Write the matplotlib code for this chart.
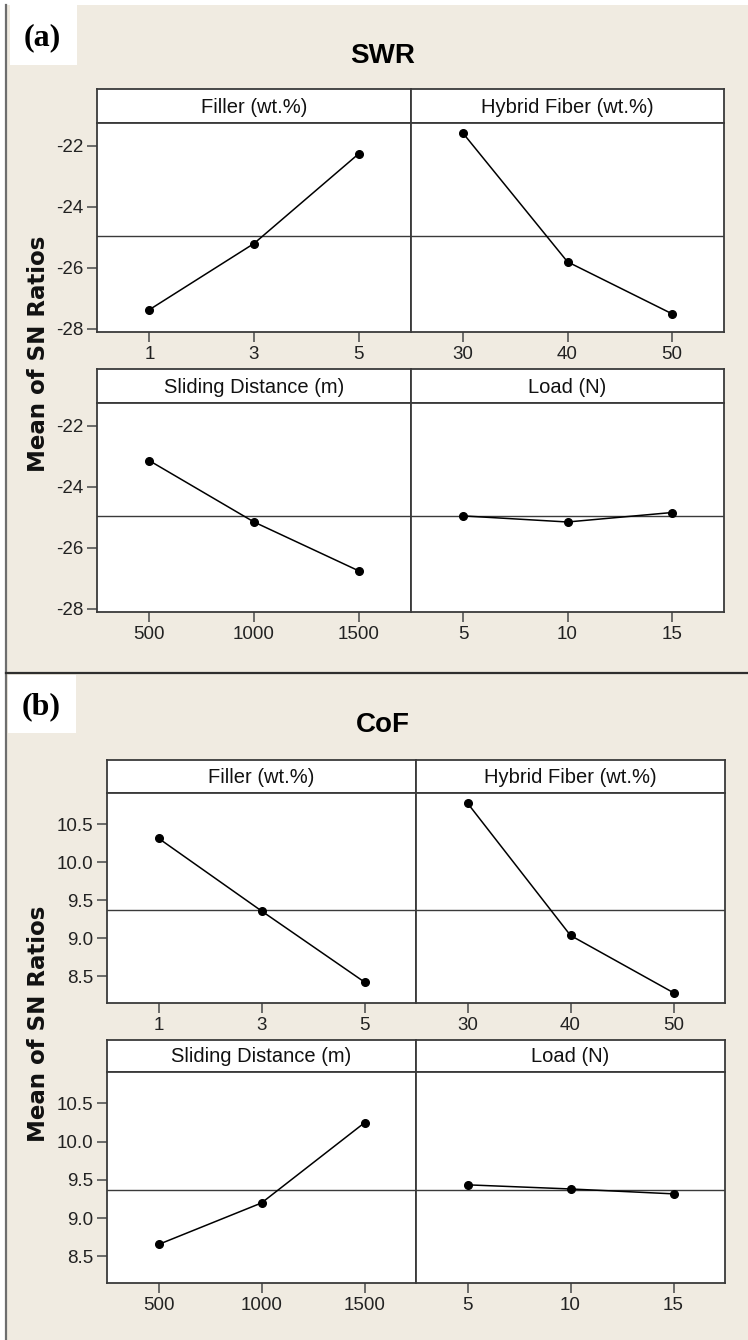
import matplotlib
matplotlib.use("Agg")
import matplotlib.pyplot as plt
from matplotlib.ticker import FormatStrFormatter

W, H = 748, 1340
BG = "#f0ebe1"
EDGE = "#3a3a3a"
SANS = ["Liberation Sans", "DejaVu Sans"]

# factor levels
filler_levels = [1, 3, 5]
fiber_levels = [30, 40, 50]
distance_levels = [500, 1000, 1500]
load_levels = [5, 10, 15]

factor_names = ["Filler (wt.%)", "Hybrid Fiber (wt.%)",
                "Sliding Distance (m)", "Load (N)"]

# mean of SN ratios, (a) specific wear rate
swr_filler = [-27.37, -25.20, -22.26]
swr_fiber = [-21.59, -25.80, -27.50]
swr_distance = [-23.14, -25.15, -26.75]
swr_load = [-24.95, -25.15, -24.84]
swr_mean = -24.95

# mean of SN ratios, (b) coefficient of friction
cof_filler = [10.315, 9.36, 8.425]
cof_fiber = [10.777, 9.038, 8.285]
cof_distance = [8.654, 9.197, 10.246]
cof_load = [9.434, 9.38, 9.316]
cof_mean = 9.37

swr_yticks = [-28, -26, -24, -22]
cof_yticks = [8.5, 9.0, 9.5, 10.0, 10.5]


def px_axes(fig, l, t, r, b):
    return fig.add_axes([l / W, 1 - b / H, (r - l) / W, (b - t) / H])


def draw_block(fig, title, label, top, cols, rows, series, levels, mean,
               ylim, yticks, yfmt):
    # panel tag in a white box
    lab_l, lab_t, lab_r, lab_b = label[1]
    tag = px_axes(fig, lab_l, lab_t, lab_r, lab_b)
    tag.set_facecolor("white")
    tag.set_xticks([])
    tag.set_yticks([])
    for s in tag.spines.values():
        s.set_visible(False)
    tag.text(0.48, 0.45, label[0], ha="center", va="center",
             family=["Liberation Serif", "DejaVu Serif"], weight="bold",
             fontsize=23, transform=tag.transAxes)

    fig.text(383 / W, 1 - top / H, title, ha="center", va="center",
             family=SANS, weight="bold", fontsize=20)

    k = 0
    for ri, (ht, hb, pb) in enumerate(rows):
        for ci, (cl, cr) in enumerate(cols):
            head = px_axes(fig, cl, ht, cr, hb)
            head.set_facecolor("white")
            head.set_xticks([])
            head.set_yticks([])
            for s in head.spines.values():
                s.set_color(EDGE)
                s.set_linewidth(1.3)
            head.text(0.5, 0.47, factor_names[k], ha="center", va="center",
                      family=SANS, fontsize=14.5, color="#111111",
                      transform=head.transAxes)

            ax = px_axes(fig, cl, hb, cr, pb)
            ax.set_facecolor("white")
            lv = levels[k]
            step = lv[1] - lv[0]
            ax.plot(lv, series[k], color="black", lw=1.1, marker="o",
                    ms=5.5, zorder=3)
            ax.axhline(mean, color=EDGE, lw=1.0, zorder=2)
            ax.set_xlim(lv[0] - step / 2, lv[-1] + step / 2)
            ax.set_ylim(*ylim)
            ax.set_xticks(lv)
            ax.set_yticks(yticks)
            ax.yaxis.set_major_formatter(FormatStrFormatter(yfmt))
            ax.tick_params(direction="out", length=7, width=1.2,
                           color="#555555", labelsize=13.5, pad=3)
            if ci == 1:
                ax.tick_params(axis="y", left=False, labelleft=False)
            for t in ax.get_xticklabels() + ax.get_yticklabels():
                t.set_family(SANS)
                t.set_color("#222222")
            for s in ax.spines.values():
                s.set_color(EDGE)
                s.set_linewidth(1.3)
            k += 1


fig = plt.figure(figsize=(W / 100, H / 100), dpi=100)
fig.patch.set_facecolor("white")

# beige canvas with left rule and separator
bg = px_axes(fig, 6, 5, W, H)
bg.set_facecolor(BG)
bg.set_xticks([])
bg.set_yticks([])
for s in bg.spines.values():
    s.set_visible(False)
bg.spines["left"].set_visible(True)
bg.spines["left"].set_color("#6e6e6e")
bg.spines["left"].set_linewidth(1.6)
fig.add_artist(plt.Line2D([6 / W, 1], [1 - 673 / H, 1 - 673 / H],
                          color="#2e2e2e", lw=1.6))

draw_block(fig, "SWR", ("(a)", (10, 5, 77, 65)), 56,
           [(97, 411), (411, 724)],
           [(89, 123, 332), (369, 403, 612)],
           [swr_filler, swr_fiber, swr_distance, swr_load],
           [filler_levels, fiber_levels, distance_levels, load_levels],
           swr_mean, (-28.1, -21.25), swr_yticks, "%d")

draw_block(fig, "CoF", ("(b)", (8, 675, 76, 733)), 725,
           [(107, 416), (416, 725)],
           [(760, 793, 1003), (1040, 1072, 1283)],
           [cof_filler, cof_fiber, cof_distance, cof_load],
           [filler_levels, fiber_levels, distance_levels, load_levels],
           cof_mean, (8.15, 10.91), cof_yticks, "%.1f")

for yc in (354, 1024):
    fig.text(39 / W, 1 - yc / H, "Mean of SN Ratios", rotation=90,
             ha="center", va="center", family="DejaVu Sans",
             weight="bold", fontsize=16.5, color="#111111")

fig.savefig("out.png", dpi=100, facecolor=fig.get_facecolor())
